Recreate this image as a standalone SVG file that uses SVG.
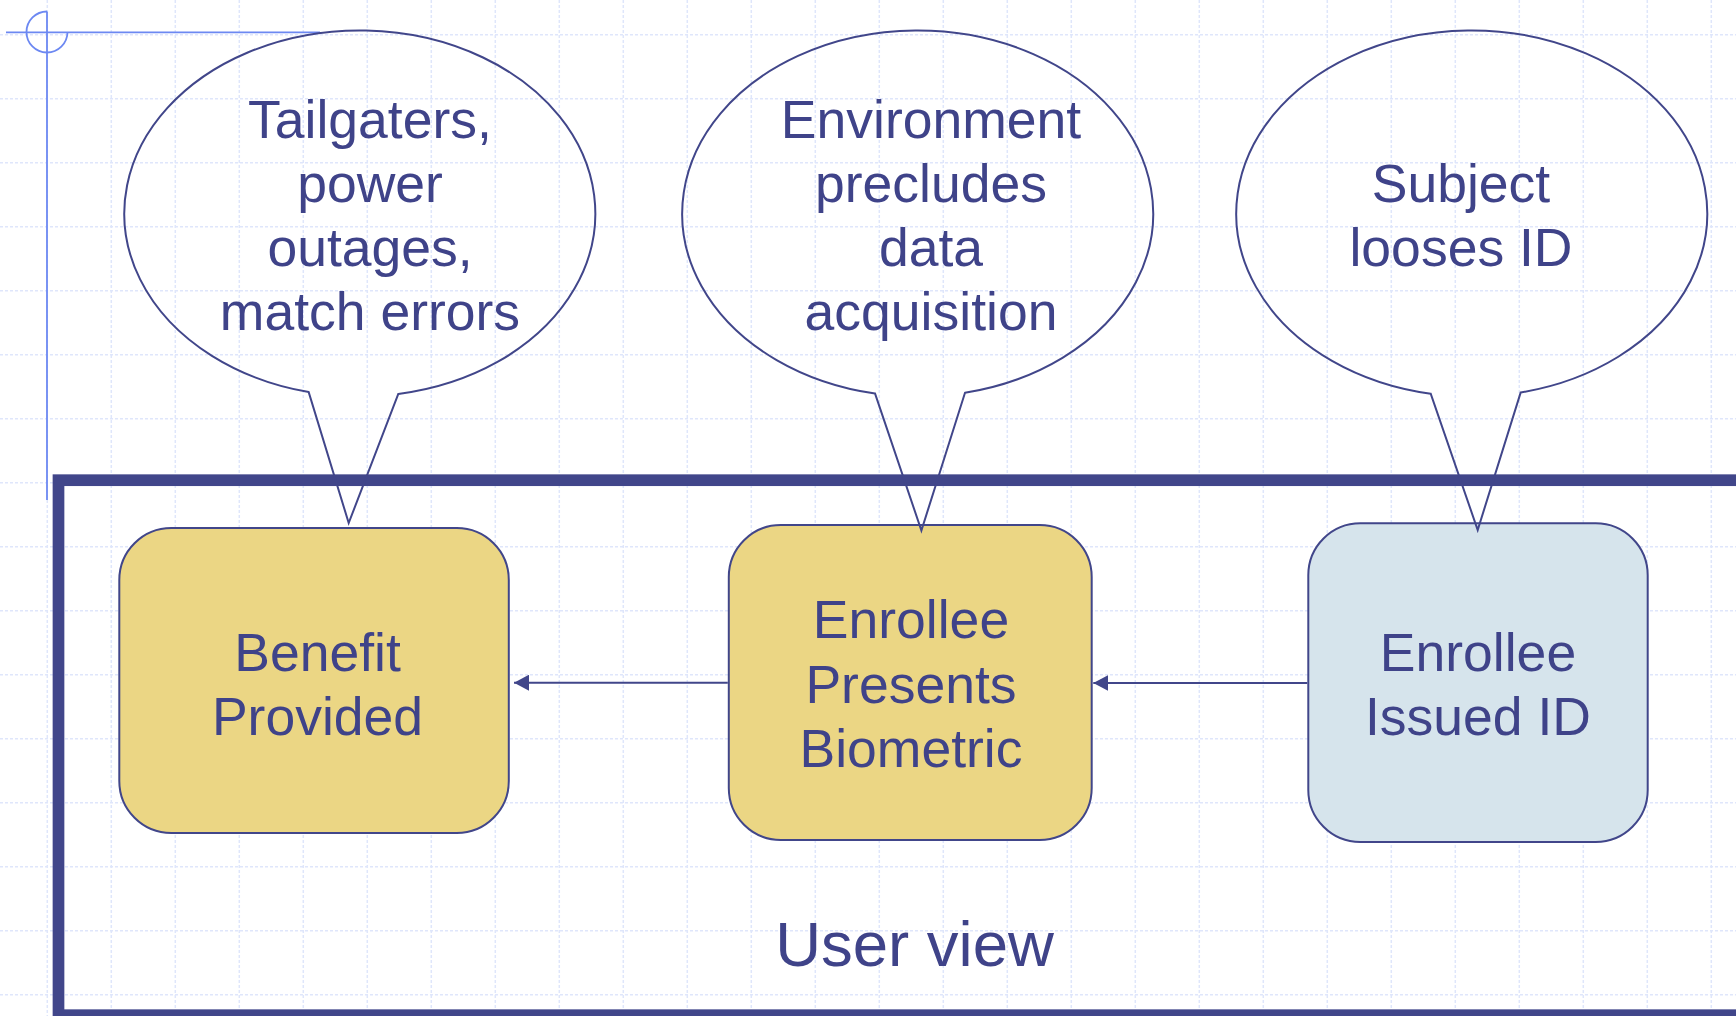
<svg xmlns="http://www.w3.org/2000/svg" width="1736" height="1016" viewBox="0 0 1736 1016">
  <defs>
    <style>
      .grid line { stroke: #dfe6fb; stroke-width: 1.5; stroke-dasharray: 3 2; }
      .guide { stroke: #6c88f2; stroke-width: 1.8; fill: none; }
      .frame { fill: none; stroke: #41468a; stroke-width: 11.7; }
      .box { stroke: #41468a; stroke-width: 2; }
      .yellow { fill: #ebd684; }
      .blue { fill: #d6e4ec; }
      .callout { fill: none; stroke: #41468a; stroke-width: 2; stroke-linejoin: miter; }
      .conn { stroke: #41468a; stroke-width: 2; fill: none; }
      text { font-family: "Liberation Sans", Arial, sans-serif; fill: #3f4389; text-anchor: middle; }
      .t52 { font-size: 53.5px; }
      .title { font-size: 63.5px; }
    </style>
    <marker id="arrowhead" markerWidth="16" markerHeight="16" refX="15" refY="8" orient="auto" markerUnits="userSpaceOnUse">
      <path d="M0,0 L15,8 L0,16 Z" fill="#41468a"/>
    </marker>
  </defs>

  <rect width="1736" height="1016" fill="#ffffff"/>

  <!-- background grid, 64px pitch -->
  <g class="grid">
    <line x1="0" y1="34.7" x2="1736" y2="34.7"/>
    <line x1="0" y1="98.7" x2="1736" y2="98.7"/>
    <line x1="0" y1="162.7" x2="1736" y2="162.7"/>
    <line x1="0" y1="226.7" x2="1736" y2="226.7"/>
    <line x1="0" y1="290.7" x2="1736" y2="290.7"/>
    <line x1="0" y1="354.7" x2="1736" y2="354.7"/>
    <line x1="0" y1="418.7" x2="1736" y2="418.7"/>
    <line x1="0" y1="482.7" x2="1736" y2="482.7"/>
    <line x1="0" y1="546.7" x2="1736" y2="546.7"/>
    <line x1="0" y1="610.7" x2="1736" y2="610.7"/>
    <line x1="0" y1="674.7" x2="1736" y2="674.7"/>
    <line x1="0" y1="738.7" x2="1736" y2="738.7"/>
    <line x1="0" y1="802.7" x2="1736" y2="802.7"/>
    <line x1="0" y1="866.7" x2="1736" y2="866.7"/>
    <line x1="0" y1="930.7" x2="1736" y2="930.7"/>
    <line x1="0" y1="994.7" x2="1736" y2="994.7"/>
    <line x1="47.3" y1="0" x2="47.3" y2="1016"/>
    <line x1="111.3" y1="0" x2="111.3" y2="1016"/>
    <line x1="175.3" y1="0" x2="175.3" y2="1016"/>
    <line x1="239.3" y1="0" x2="239.3" y2="1016"/>
    <line x1="303.3" y1="0" x2="303.3" y2="1016"/>
    <line x1="367.3" y1="0" x2="367.3" y2="1016"/>
    <line x1="431.3" y1="0" x2="431.3" y2="1016"/>
    <line x1="495.3" y1="0" x2="495.3" y2="1016"/>
    <line x1="559.3" y1="0" x2="559.3" y2="1016"/>
    <line x1="623.3" y1="0" x2="623.3" y2="1016"/>
    <line x1="687.3" y1="0" x2="687.3" y2="1016"/>
    <line x1="751.3" y1="0" x2="751.3" y2="1016"/>
    <line x1="815.3" y1="0" x2="815.3" y2="1016"/>
    <line x1="879.3" y1="0" x2="879.3" y2="1016"/>
    <line x1="943.3" y1="0" x2="943.3" y2="1016"/>
    <line x1="1007.3" y1="0" x2="1007.3" y2="1016"/>
    <line x1="1071.3" y1="0" x2="1071.3" y2="1016"/>
    <line x1="1135.3" y1="0" x2="1135.3" y2="1016"/>
    <line x1="1199.3" y1="0" x2="1199.3" y2="1016"/>
    <line x1="1263.3" y1="0" x2="1263.3" y2="1016"/>
    <line x1="1327.3" y1="0" x2="1327.3" y2="1016"/>
    <line x1="1391.3" y1="0" x2="1391.3" y2="1016"/>
    <line x1="1455.3" y1="0" x2="1455.3" y2="1016"/>
    <line x1="1519.3" y1="0" x2="1519.3" y2="1016"/>
    <line x1="1583.3" y1="0" x2="1583.3" y2="1016"/>
    <line x1="1647.3" y1="0" x2="1647.3" y2="1016"/>
    <line x1="1711.3" y1="0" x2="1711.3" y2="1016"/>
  </g>

  <!-- corner guide: crosshair with open circle -->
  <g id="guide">
    <line class="guide" x1="6" y1="32.3" x2="320" y2="32.3"/>
    <line class="guide" x1="47" y1="11.5" x2="47" y2="500"/>
    <path class="guide" d="M47,11.5 A20.5,20.5 0 1 0 67.5,32.3"/>
  </g>

  <!-- user view frame -->
  <g id="user-view">
    <rect class="frame" x="58.5" y="480.2" width="1720" height="535"/>
    <text class="title" x="914.5" y="965.5">User view</text>
  </g>

  <!-- process nodes -->
  <g id="benefit-provided">
    <rect class="box yellow" x="119.3" y="528" width="389.5" height="305" rx="52" ry="52"/>
    <text class="t52" x="317.5" y="670.7">Benefit</text>
    <text class="t52" x="317.5" y="735">Provided</text>
  </g>

  <g id="enrollee-presents-biometric">
    <rect class="box yellow" x="728.8" y="525" width="362.9" height="315" rx="52" ry="52"/>
    <text class="t52" x="911" y="638.3">Enrollee</text>
    <text class="t52" x="911" y="702.7">Presents</text>
    <text class="t52" x="911" y="766.7">Biometric</text>
  </g>

  <g id="enrollee-issued-id">
    <rect class="box blue" x="1308.3" y="523.3" width="339.4" height="318.7" rx="52" ry="52"/>
    <text class="t52" x="1478" y="671">Enrollee</text>
    <text class="t52" x="1478" y="735">Issued ID</text>
  </g>

  <!-- flow connectors -->
  <g id="connectors">
    <line class="conn" x1="727.8" y1="682.7" x2="514" y2="682.7" marker-end="url(#arrowhead)"/>
    <line class="conn" x1="1307.3" y1="683" x2="1093.3" y2="683" marker-end="url(#arrowhead)"/>
  </g>

  <!-- failure callouts -->
  <g id="callout-tailgaters">
    <path class="callout" d="M308.7,392.1 A235.5,183 0 1 1 398.3,394 L348.7,523 Z"/>
    <text class="t52" x="370" y="138.3">Tailgaters,</text>
    <text class="t52" x="370" y="201.7">power</text>
    <text class="t52" x="370" y="266">outages,</text>
    <text class="t52" x="370" y="330">match errors</text>
  </g>

  <g id="callout-environment">
    <path class="callout" d="M875,393.5 A235.5,183 0 1 1 965,392.8 L921.4,530.5 Z"/>
    <text class="t52" x="931" y="138.3">Environment</text>
    <text class="t52" x="931" y="201.7">precludes</text>
    <text class="t52" x="931" y="266">data</text>
    <text class="t52" x="931" y="330">acquisition</text>
  </g>

  <g id="callout-lost-id">
    <path class="callout" d="M1430.7,393.7 A235.5,183 0 1 1 1520.7,392.5 L1477.7,530 Z"/>
    <text class="t52" x="1461" y="201.7">Subject</text>
    <text class="t52" x="1461" y="266">looses ID</text>
  </g>
</svg>
